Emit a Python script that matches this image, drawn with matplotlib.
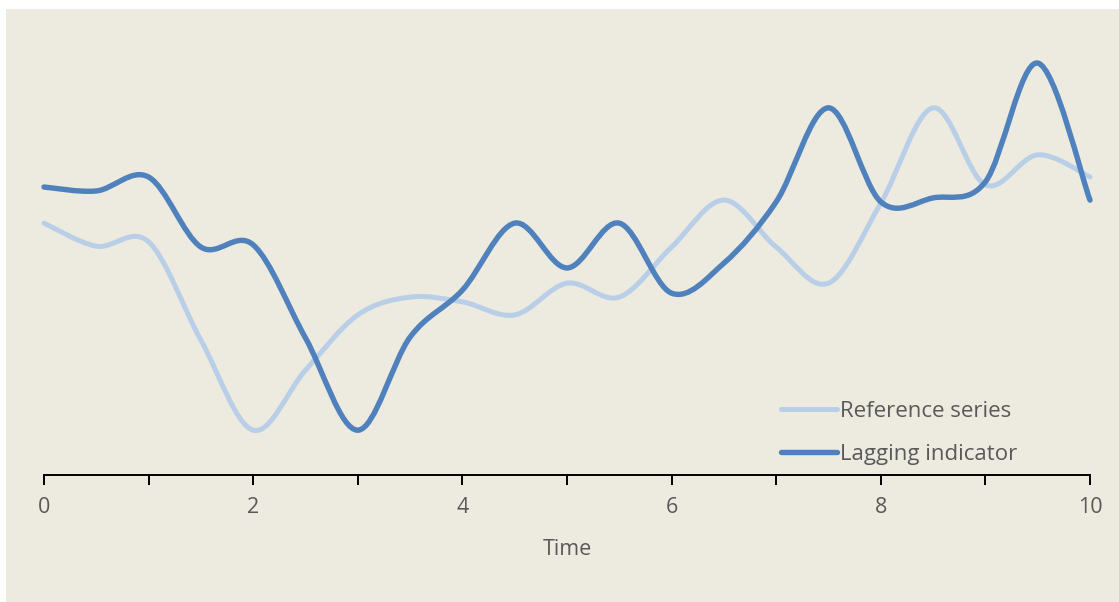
import numpy as np
import matplotlib.pyplot as plt
from matplotlib.path import Path
from matplotlib.patches import PathPatch, Rectangle
from matplotlib.lines import Line2D

plt.rcParams['font.family'] = ['Open Sans', 'DejaVu Sans']

time = [0, 0.5, 1, 1.5, 2, 2.5, 3, 3.5, 4, 4.5, 5, 5.5, 6, 6.5, 7, 7.5, 8, 8.5, 9, 9.5, 10]
reference = [5.79, 5.26, 5.36, 3.10, 1.03, 2.41, 3.68, 4.09, 3.98, 3.68, 4.41, 4.09,
             5.24, 6.32, 5.24, 4.41, 6.25, 8.44, 6.67, 7.36, 6.85]
lagging = [6.62, 6.53, 6.85, 5.24, 5.29, 3.15, 1.03, 3.17, 4.25, 5.79, 4.76, 5.79,
           4.18, 4.87, 6.28, 8.44, 6.28, 6.37, 6.74, 9.47, 6.32]

bg = '#EDEAE0'
light_blue = '#B9CFE8'
dark_blue = '#4F81BD'
text_grey = '#595959'


def smooth_path(xs, ys):
    # cubic bezier through every point, handles from neighbouring points
    pts = np.column_stack([xs, ys])
    ext = np.vstack([pts[0], pts, pts[-1]])
    verts = [pts[0]]
    codes = [Path.MOVETO]
    for i in range(len(pts) - 1):
        p0, p1, p2, p3 = ext[i], ext[i + 1], ext[i + 2], ext[i + 3]
        verts += [p1 + (p2 - p0) / 6, p2 - (p3 - p1) / 6, p2]
        codes += [Path.CURVE4] * 3
    return Path(verts, codes)


fig = plt.figure(figsize=(11.19, 6.02), dpi=100, facecolor='white')
fig.patches.append(Rectangle((6 / 1119, 0), 1 - 6 / 1119, 1 - 9 / 602,
                             transform=fig.transFigure, facecolor=bg,
                             edgecolor='none', zorder=-10))

ax = fig.add_axes([44 / 1119, 1 - 475 / 602, 1046 / 1119, 435 / 602])
ax.set_facecolor('none')

for ys, color, lw in [(reference, light_blue, 3.6), (lagging, dark_blue, 3.9)]:
    ax.add_patch(PathPatch(smooth_path(time, ys), facecolor='none', edgecolor=color,
                           linewidth=lw, capstyle='round', joinstyle='round',
                           clip_on=False))

ax.set_xlim(0, 10)
ax.set_ylim(0, 10)
ax.set_xticks(range(0, 11))
ax.set_xticklabels([str(t) if t % 2 == 0 else '' for t in range(0, 11)])
ax.set_yticks([])
for side in ['top', 'right', 'left']:
    ax.spines[side].set_visible(False)
ax.spines['bottom'].set_color('black')
ax.spines['bottom'].set_linewidth(1.4)
ax.tick_params(axis='x', direction='out', length=7, width=1.4, color='black',
               labelcolor=text_grey, labelsize=15.5, pad=9)
ax.set_xlabel('Time', fontsize=15.5, color=text_grey, labelpad=15)

handles = [Line2D([], [], color=light_blue, lw=3.6, solid_capstyle='round'),
           Line2D([], [], color=dark_blue, lw=3.9, solid_capstyle='round')]
ax.legend(handles, ['Reference series', 'Lagging indicator'], loc='lower left',
          bbox_to_anchor=(0.685, -0.023), frameon=False, fontsize=16,
          handlelength=2.55, handletextpad=0.12, labelspacing=1.0,
          labelcolor=text_grey)

fig.savefig('out.png', dpi=100, facecolor='white')
